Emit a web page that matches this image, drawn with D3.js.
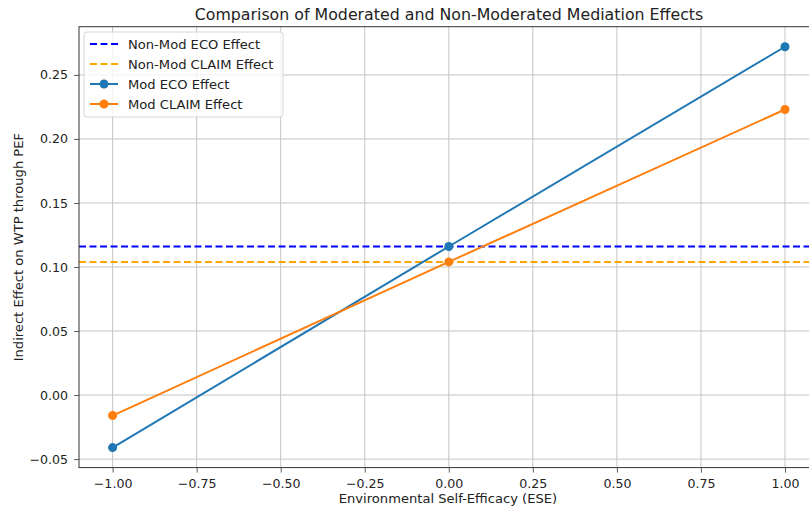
<!DOCTYPE html>
<html>
<head>
<meta charset="utf-8">
<script src="https://cdn.jsdelivr.net/npm/d3@7"></script>
<style>
  body { margin: 0; background: #fff; }
  svg text { font-family: "DejaVu Sans", sans-serif; fill: #222; }
</style>
</head>
<body>
<div class="chart"></div>
<script>
// data
const ese = [-1, 0, 1];
const modEco = [-0.041, 0.116, 0.272];
const modClaim = [-0.016, 0.104, 0.223];
const nonModEco = 0.116;
const nonModClaim = 0.104;
const xTicks = [-1, -0.75, -0.5, -0.25, 0, 0.25, 0.5, 0.75, 1];
const yTicks = [-0.05, 0, 0.05, 0.1, 0.15, 0.2, 0.25];

const width = 809, height = 510;
const margin = {top: 26.7, right: -9.6, bottom: 42.4, left: 79};

const svg = d3.select('.chart').append('svg')
  .attr('width', width)
  .attr('height', height);

// matplotlib style 5% margins
const xPad = 0.05 * (d3.max(ese) - d3.min(ese));
const yMin = d3.min(modEco.concat(modClaim)), yMax = d3.max(modEco.concat(modClaim));
const yPad = 0.05 * (yMax - yMin);

const x = d3.scaleLinear()
  .domain([d3.min(ese) - xPad, d3.max(ese) + xPad])
  .range([margin.left, width - margin.right]);
const y = d3.scaleLinear()
  .domain([yMin - yPad, yMax + yPad])
  .range([height - margin.bottom, margin.top]);

const plot = svg.append('g');

// grid
plot.append('g').selectAll('line').data(xTicks).enter().append('line')
  .attr('x1', d => x(d)).attr('x2', d => x(d))
  .attr('y1', y.range()[0]).attr('y2', y.range()[1])
  .attr('stroke', '#c4c4c4').attr('stroke-width', 1);
plot.append('g').selectAll('line').data(yTicks).enter().append('line')
  .attr('x1', x.range()[0]).attr('x2', x.range()[1])
  .attr('y1', d => y(d)).attr('y2', d => y(d))
  .attr('stroke', '#c4c4c4').attr('stroke-width', 1);

// axes
const fmt = d => d3.format('.2f')(d).replace('-', '\u2212');
const xAxis = svg.append('g')
  .attr('transform', 'translate(0,' + y.range()[0] + ')')
  .call(d3.axisBottom(x).tickValues(xTicks).tickSize(5).tickPadding(6).tickFormat(fmt));
const yAxis = svg.append('g')
  .attr('transform', 'translate(' + x.range()[0] + ',0)')
  .call(d3.axisLeft(y).tickValues(yTicks).tickSize(5).tickPadding(6).tickFormat(fmt));

[xAxis, yAxis].forEach(a => {
  a.selectAll('text').style('font-size', '12.6px').attr('fill', '#222');
  a.selectAll('.tick line').attr('stroke', '#333').attr('stroke-width', 0.8);
  a.select('.domain').remove();
});

// spines
svg.append('rect')
  .attr('x', x.range()[0]).attr('y', y.range()[1])
  .attr('width', x.range()[1] - x.range()[0])
  .attr('height', y.range()[0] - y.range()[1])
  .attr('fill', 'none').attr('stroke', '#333').attr('stroke-width', 1);

// horizontal reference lines
const hlines = [
  {v: nonModEco, color: '#0000ff'},
  {v: nonModClaim, color: '#ffa500'}
];
plot.selectAll('.hline').data(hlines).enter().append('line')
  .attr('class', 'hline')
  .attr('x1', x.range()[0]).attr('x2', x.range()[1])
  .attr('y1', d => y(d.v)).attr('y2', d => y(d.v))
  .attr('stroke', d => d.color)
  .attr('stroke-width', 2)
  .attr('stroke-dasharray', '7,3.5');

// moderated lines
const series = [
  {vals: modEco, color: '#1f77b4'},
  {vals: modClaim, color: '#ff7f0e'}
];
const line = d3.line().x((d, i) => x(ese[i])).y(d => y(d));
series.forEach(s => {
  plot.append('path')
    .datum(s.vals)
    .attr('d', line)
    .attr('fill', 'none')
    .attr('stroke', s.color)
    .attr('stroke-width', 2);
  plot.selectAll(null).data(s.vals).enter().append('circle')
    .attr('cx', (d, i) => x(ese[i]))
    .attr('cy', d => y(d))
    .attr('r', 4.5)
    .attr('fill', s.color);
});

// title and axis labels
svg.append('text')
  .attr('x', 449).attr('y', 19.5)
  .attr('text-anchor', 'middle')
  .style('font-size', '15.8px')
  .text('Comparison of Moderated and Non-Moderated Mediation Effects');
svg.append('text')
  .attr('x', 448).attr('y', 503)
  .attr('text-anchor', 'middle')
  .style('font-size', '13.1px')
  .text('Environmental Self-Efficacy (ESE)');
svg.append('text')
  .attr('transform', 'translate(23,' + (y.range()[0] + y.range()[1]) / 2 + ') rotate(-90)')
  .attr('text-anchor', 'middle')
  .style('font-size', '13.1px')
  .text('Indirect Effect on WTP through PEF');

// legend
const legendItems = [
  {label: 'Non-Mod ECO Effect', color: '#0000ff', dash: true},
  {label: 'Non-Mod CLAIM Effect', color: '#ffa500', dash: true},
  {label: 'Mod ECO Effect', color: '#1f77b4', dash: false},
  {label: 'Mod CLAIM Effect', color: '#ff7f0e', dash: false}
];
const legend = svg.append('g').attr('transform', 'translate(84,32)');
legend.append('rect')
  .attr('width', 199).attr('height', 85).attr('rx', 3)
  .attr('fill', 'rgba(255,255,255,0.8)')
  .attr('stroke', '#d6d6d6');
const li = legend.selectAll('.li').data(legendItems).enter().append('g')
  .attr('transform', (d, i) => 'translate(0,' + (12 + i * 20) + ')');
li.append('line')
  .attr('x1', 6).attr('x2', 34)
  .attr('stroke', d => d.color).attr('stroke-width', 2)
  .attr('stroke-dasharray', d => d.dash ? '7,3.5' : null);
li.filter(d => !d.dash).append('circle')
  .attr('cx', 20).attr('r', 4.5).attr('fill', d => d.color);
li.append('text')
  .attr('x', 44).attr('dy', '0.35em')
  .style('font-size', '13.1px')
  .text(d => d.label);
</script>
</body>
</html>
